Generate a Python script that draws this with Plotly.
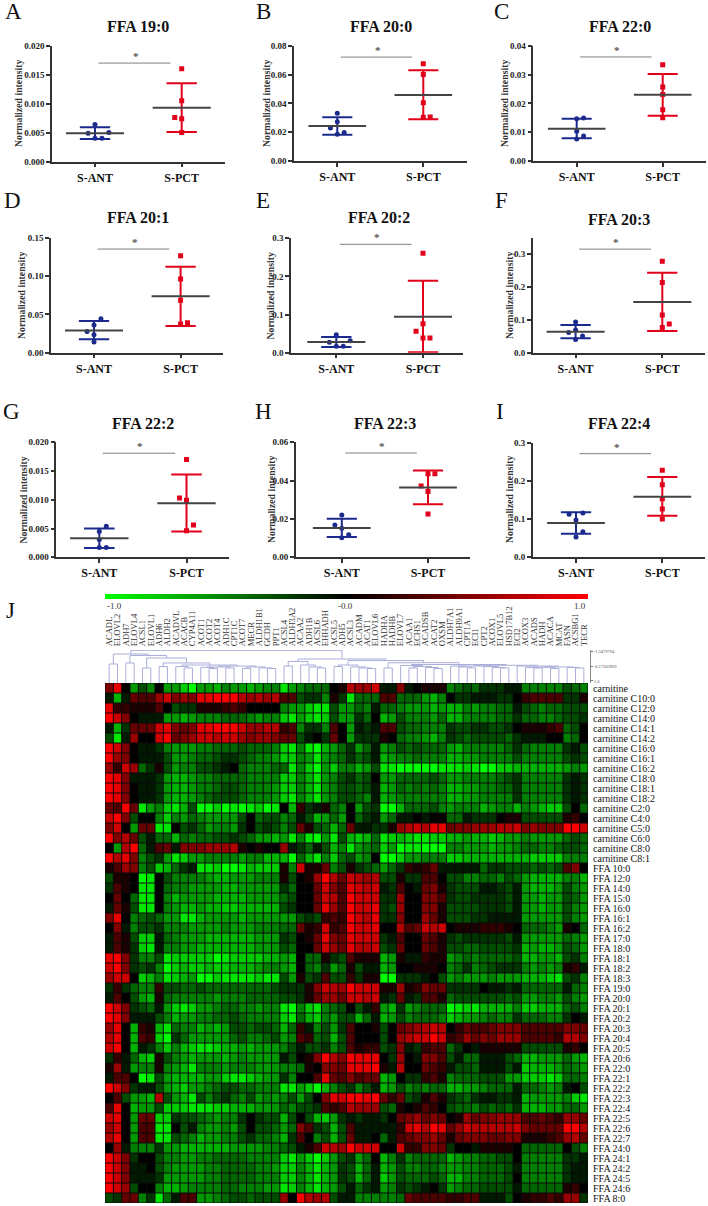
import plotly.graph_objects as go

# ---------------- scatter panels: data ----------------
LETTERS = list("ABCDEFGHI")
TITLES = ["FFA 19:0", "FFA 20:0", "FFA 22:0", "FFA 20:1", "FFA 20:2", "FFA 20:3", "FFA 22:2", "FFA 22:3", "FFA 22:4"]
CATEGORIES = ["S-ANT", "S-PCT"]
Y_MAX = [0.02, 0.08, 0.04, 0.15, 0.3, 0.35, 0.02, 0.06, 0.3]
Y_TICKS = [
    ["0.000", "0.005", "0.010", "0.015", "0.020"],
    ["0.00", "0.02", "0.04", "0.06", "0.08"],
    ["0.00", "0.01", "0.02", "0.03", "0.04"],
    ["0.00", "0.05", "0.10", "0.15"],
    ["0.0", "0.1", "0.2", "0.3"],
    ["0.0", "0.1", "0.2", "0.3"],
    ["0.000", "0.005", "0.010", "0.015", "0.020"],
    ["0.00", "0.02", "0.04", "0.06"],
    ["0.0", "0.1", "0.2", "0.3"],
]
ANT_VALUES = [
    [.0064, .0049, .0050, .0040, .0040],
    [.0331, .0273, .0229, .0197, .0185],
    [.0147, .0149, .0103, .0087, .0076],
    [.0443, .0361, .0278, .0235, .0139],
    [.0472, .0315, .0271, .0166, .0166],
    [.0932, .0689, .0618, .0507, .0405],
    [.0054, .0045, .0031, .0017, .0017],
    [.0220, .0167, .0150, .0117, .0101],
    [.1125, .1160, .0977, .0672, .0532],
]
ANT_JITTER = [
    [0, -.08, .16, 0, .08], [0, 0, -.08, .08, 0], [0, .08, 0, .08, 0],
    [.08, 0, -.08, 0, 0], [0, .16, -.08, 0, .08], [0, 0, -.08, .08, 0],
    [.08, 0, 0, 0, .08], [0, -.08, 0, .08, 0], [-.08, .08, 0, .08, 0],
]
PCT_VALUES = [
    [.0160, .0105, .0076, .0074, .0050],
    [.0675, .0601, .0405, .0303, .0305],
    [.0334, .0257, .0231, .0178, .0150],
    [.1265, .0961, .0683, .0374, .0391],
    [.2606, .0761, .0560, .0385, .0385],
    [.2787, .2138, .1145, .0872, .0770],
    [.0170, .0103, .0099, .0056, .0046],
    [.0436, .0436, .0372, .0342, .0225],
    [.2276, .1901, .1535, .1265, .1003],
]
PCT_JITTER = [
    [0, 0, -.08, 0, 0], [0, 0, 0, 0, .08], [0, 0, 0, 0, 0],
    [0, 0, 0, 0, .08], [0, 0, -.08, 0, .08], [0, 0, 0, .08, 0],
    [0, -.08, 0, .08, 0], [0, .08, -.08, 0, 0], [0, 0, 0, 0, 0],
]
ANT_MEAN = [.0049, .0243, .0112, .0291, .0280, .0638, .0033, .0152, .0898]
ANT_HIGH = [.0059, .0303, .0147, .0413, .0411, .0841, .0050, .0200, .1177]
ANT_LOW = [.0039, .0183, .0079, .0174, .0149, .0436, .0016, .0105, .0619]
PCT_MEAN = [.0093, .0458, .0230, .0735, .0945, .1540, .0094, .0363, .1587]
PCT_HIGH = [.0135, .0629, .0302, .1122, .1889, .2432, .0144, .0452, .2102]
PCT_LOW = [.0051, .0289, .0157, .0348, .0010, .0659, .0045, .0276, .1090]
SIG_Y = [.0170, .0721, .0361, .1352, .2843, .3152, .0181, .0544, .2712]

# ---------------- heat map: data ----------------
GENES = ["ACADL", "ELOVL2", "ADH7", "ELOVL4", "ACSL1", "ELOVL1", "ADH6", "ALDH2", "ACADVL", "ACACB", "CYP4A11",
         "ACOT1", "ACOT2", "ACOT4", "ADH1C", "CPT1C", "ACOT7", "MECR", "ALDH1B1", "GCDH", "PPT1", "ACSL4", "ALDH3A2",
         "ACAA2", "ADH1B", "ACSL6", "EHHADH", "ACSL5", "ADH5", "ACSL3", "ACADM", "ACAT1", "ELOVL6", "HADHA", "HADHB",
         "ELOVL7", "ACAA1", "ECHS1", "ACADSB", "ACAT2", "OXSM", "ALDH7A1", "ALDH9A1", "CPT1A", "ECI1", "CPT2", "ACOX1",
         "ELOVL5", "HSD17B12", "ECI2", "ACOX3", "ACADS", "HADH", "ACACA", "MCAT", "FASN", "ACSBG1", "TECR"]
METABOLITES = ["carnitine", "carnitine C10:0", "carnitine C12:0", "carnitine C14:0", "carnitine C14:1", "carnitine C14:2",
               "carnitine C16:0", "carnitine C16:1", "carnitine C16:2", "carnitine C18:0", "carnitine C18:1",
               "carnitine C18:2", "carnitine C2:0", "carnitine C4:0", "carnitine C5:0", "carnitine C6:0", "carnitine C8:0",
               "carnitine C8:1", "FFA 10:0", "FFA 12:0", "FFA 14:0", "FFA 15:0", "FFA 16:0", "FFA 16:1", "FFA 16:2",
               "FFA 17:0", "FFA 18:0", "FFA 18:1", "FFA 18:2", "FFA 18:3", "FFA 19:0", "FFA 20:0", "FFA 20:1", "FFA 20:2",
               "FFA 20:3", "FFA 20:4", "FFA 20:5", "FFA 20:6", "FFA 22:0", "FFA 22:1", "FFA 22:2", "FFA 22:3", "FFA 22:4",
               "FFA 22:5", "FFA 22:6", "FFA 22:7", "FFA 24:0", "FFA 24:1", "FFA 24:2", "FFA 24:5", "FFA 24:6", "FFA 8:0"]
# One string per metabolite, one character per gene:
# 0 = black, a..j = green -0.1..-1.0, A..J = red +0.1..+1.0 (spaces only group columns)
CELLS = [
    "EI0f ce0 ff hjffgeffgfee if eddd0A GFFH aaE a0AAA edcdbbbaa eeeee cde",
    "agaD CCF HE FEIIJJJGFGFG CC cbbeAb iddd CCd ddfge 0bbaaabb0 BCCCC bbA",
    "IBBA AAC 0c bbAAABCB0000 ef fhiicf fdea dde fffgf ggefeedda cdedd ccc",
    "JHE0 aaa ff gfeeedddefee hi fhihcf fbd0 gfc eeefd ggeeeeddb ddeed ccb",
    "agbD DDH IE DEIIJJJHFFGG BC ebbeC0 faba CCc ddeee bccbbccb0 AAABC dc0",
    "ciaF 00H JD EFHHGHHFEFFE DD ca0bD0 fbbb A0d eefge bcdccccdb aaa00 ed0",
    "JHE0 aab ef ffeedddcddde hi eijgfd bfda fec dcddd fgeeeeedb deeee bac",
    "JFE0 aaa cf feddcbbcdeef hh efifed bdca gfe edeee ggffeeeec eeeee cbc",
    "FBHF dbA cf eeccba0deeed di ehjfhe egfc iij jjjji iihijjhhg ggggg fef",
    "JIEa aab fg gfeeddddeeee hh egifec bdc0 ffd dddcd ffeeeedcb eeeee bab",
    "JIE0 aab fg gfeedccdeeef hh egifec cdca gfd edede ggffeeddb eeeee bab",
    "JIE0 aab fg gfedcccdeeef hi egifec cdea gfe eeeee ggffeeeeb eeeee bab",
    "DCJD ife hi gcjjhjijihji 0g BbaAde 0fcb jjg dddce feeegfeeg efghh c0d",
    "HJEc 00e he fdeffffc0dcc ed acgfdf 0dba fda a0a00 ddabbb0AA ccccc AB0",
    "EH0f DDi i0 cbdfeefb0cbc ec DAcdgd Daab bAF GHGII DEEFFFGGH EFEEE JJH",
    "JEGD cad dg deddccbcdffg fi eijfic ghgd ihg hiihh ggfgghgff effff dcd",
    "0fGJ daC Da EEEFFFGA0A00 Fa bdacge ifed hfj iijjj eefffgffe ddeed ccd",
    "JGIE ecb fi hffeeeefeegg gj dgiehd cfe0 jjh ffeee hhggggggg ghhhh eee",
    "ACFE ech gd baiihjjighhh Ae HAADec Abcd fdb BABDa aaaadbbcc cdcdc CE0",
    "cAA0 ji0 ce eeefggfffeee Ac 0AFJGD HGFG ccA bbCC0 cceeddecd fgggg eeg",
    "bCA0 ii0 de effffggfffff bd 00DHEC IHGH abC 0aDEA bcccaabca fgggf cef",
    "0D0d ii0 eg ffffggggffff dc 00DHGC JHHH bbF 00EEC bccbbbbca ffgff cdf",
    "aDAc ii0 ef ggfgghhggggg cb 00DIFC JHHI bcF 00EEA ccccbbbca ffgff cef",
    "EI0e dcd ff iigffffgffff ff cbcBCB JHGI bbE 00FDA cccbbaaaa fffff cef",
    "0Eae ccb ee effffefffeee dd DABHBC JHHI 00G CDHGH 0AAABBBA0 dddef A0d",
    "aCAc hha de fffggggggfff bc 0ADIED IHHH baC 00DCA bcbbbbbca fffff def",
    "aCAb hia ee ffgggggggfff cd 00DHFD IGGH cbD 00DCA ccddccccb gfggf cdf",
    "IJEb eec ih hhhhjihhhhgg fg 0ddAbc CAAA gfA aaBAA fededdddc ggffg cbe",
    "HJEb cbe jh ghhghhgggfee fg 0debfd Acaa gf0 0AAA0 edbedcbbb efefe ABa",
    "FHH0 hge ih gfjjhiiiihii cf AcbCcc BbAA jjb bba0c fefffefff ggghi cbe",
    "bBbd eeB cc ddcddddddddc bb bAEHGF JHHH AAF ABEDD bbbb0aaba ddddd ade",
    "aC0c fgA de eeeefeeedddd cc bADFFD HHGH abD abCCA dccccccdc ffeef cef",
    "JHEb cda fh ihffeddeefee ij ehiedc 0caB fgb feddd jihigggge hhggg dce",
    "JIEa aac eg ffeeddcdeeee hi dghefc cgda gfc eddde hgffedeeb dddee b0a",
    "FI0g BAg id eegfgfccdccd gd Baecfb C00A c0D EFGHG 0BDCCDEEE CCCCC EED",
    "GI0g CBh jb dfffffdceedc fe CBdcgc C000 c0F GHHJH BCFDEDFFF CCCCB GGE",
    "HJ0g abe he ghiihggfgfff ec accbec CABB cbE abBCC db0aAAAAA ccccc AB0",
    "bBad ghA ce fgfffgfeffff ac 0AEJGE JIII 0bF 0aEEC caddaaacd ggfff dfg",
    "AFaf eeA ef gieeefeeefff ee dA0EED IIIJ AaG 00DCB accdaaaca hgggf def",
    "aCC0 jic fg gggffhiihgff be 00CIDC ECDD gf0 bbBCA edddcccff hhhih dde",
    "JHEb aac fg hffedccddeee ii fhjgec beca gfc ededd ggffeddda ddefe a0c",
    "0Ccf fgG cf gicecbdecfef ec fc0EIH JJIJ DBD cbACA bcdbaabba gffff ehi",
    "CI0g ffc hh hiiihhgggfff de ccbCBC GFFF cdA 0ACB0 cddecdcdb gggff ddf",
    "HI0f DDh hb ccdefeeb0bcc gc 0cghfb abaa b0D EFDED 0AFDEEFFF CCDCB FFD",
    "FH0f CCi i0 caeffefc0ccd fd ECbcgc Caaa aaB HIGJI DFHGGGGGH EDDDD JJG",
    "GI0f CCi ic degffeecbdde gb C0ecgc Daa0 daC DEEFD ADEEEDDEE AAABC FGD",
    "0Fae eeb ff ggggggffffee dc aACHGF JHHH 00H BBEED b00aAAAA0 ddddd 0ce",
    "JHEb 00c ee ffeeddddeeee hi fhjhfc bfd0 geb edddd gfeeddcc0 eeeee bba",
    "JHEa a0c ef fffeeddddeef hh egigfb cgda gfc eedde ffeedddca eeeee baa",
    "JHEa aab ff fffeeddddeee hh egigfb cgda hfc dddcd ggeedddc0 eeeee baa",
    "JHFc 00e gg feeeeddeeeff ih egigfc adba feb cba0b feddcccca ddddd AB0",
    "cbDD ebi da CCffedccdccc F0 JGFGca aeee eed DCCCC BBCCaaac0 ABBCB FFb",
]

# Gene dendrogram: (merge height on the printed scale, left child, right child); integers are gene columns
q = (-0.06, 11, (0.02, 12, 13))
q2 = (-0.10, q, (-0.02, 14, 15))
r = (-0.10, (0.02, 16, 17), (-0.02, 18, (0.02, 19, 20)))
ne = (-0.25, (-0.13, 8, (-0.02, 9, 10)), (-0.17, q2, r))
left_tree = (-1.11, (-0.33, 0, 1),
             (-1.00, (-0.41, 2, 3), (-0.80, (-0.02, 4, 5), (-0.41, (-0.13, 6, 7), ne))))
u = (-0.53, (-0.17, 21, 22), (-0.25, 23, (-0.10, 24, (-0.02, 25, 26))))
w = (-0.25, (-0.13, 27, 28), (-0.10, 29, (-0.02, 30, (0.02, 31, 32))))
t = (-0.21, 35, (-0.13, (-0.02, 36, 37), (-0.06, 38, (0.02, 39, 40))))
a1 = (-0.17, (-0.17, 41, (-0.10, 42, (-0.02, 43, 44))), (-0.13, 45, (-0.06, 46, (-0.02, 47, 48))))
a2 = (-0.17, 49, (-0.10, (-0.08, (-0.06, 50, (-0.02, 51, 52)), (0.02, 53, 54)), (-0.06, 55, (-0.02, 56, 57))))
y_branch = (-0.43, (-0.02, 33, 34), (-0.29, t, (-0.23, a1, a2)))
right_tree = (-0.72, u, (-0.60, w, y_branch))
GENE_TREE = (-1.40, left_tree, right_tree)
SCALE_VALUES = [-1.3479794, -0.17303969, 1.0]
SCALE_TEXT = ["-1.3479794", "-0.17303969", "1.0"]

# ---------------- layout and style ----------------
W, H = 708, 1206
SERIF = "Liberation Serif"
BLUE, RED, MEAN_COL, AXIS_COL = "#1b2a8c", "#e2001a", "#444444", "#333333"
# axis-left, axis-right, y of top, y of bottom, x of cat 0, x of cat 1 in page pixels
FRAMES = [
    (52, 225, 45.7, 161.5, 95, 181.7), (294, 467, 45.7, 161, 337.3, 423.3), (533.3, 706, 45.7, 161, 576.7, 662.7),
    (51, 223, 237.7, 352.7, 94, 180.6), (291, 463, 238.3, 352.7, 336.3, 423), (532.7, 705, 237.7, 352.7, 575.6, 662.3),
    (56.4, 229, 442.3, 557.3, 99.3, 186.5), (295.7, 470, 442.3, 557, 341.8, 428), (532.7, 705, 442.7, 557.3, 576, 662.3),
]
TITLE_XY = [(138, 27), (380.7, 27), (620, 26), (137.7, 218), (379, 218), (618.5, 219), (142.7, 423), (385, 423), (619.4, 423)]
LETTER_XY = [(13, 11), (263, 11), (501.7, 11), (12.6, 200.5), (263, 200), (501, 200), (11, 411), (263, 411), (500, 411)]
YTITLE_XY = [(18, 104), (266, 104), (504, 104), (21, 296), (269.5, 296), (509, 296), (22.6, 500), (271, 500), (509, 500)]
HM_X0, HM_X1, HM_Y0, HM_Y1 = 105, 588, 683, 1203
BAR_TOP = 594


def fx(px):
    return px / W


def fy(py):
    return 1 - py / H


def note(text, px, py, size, color="#111111", bold=False, angle=0, xanchor="center"):
    return dict(text=text, x=fx(px), y=fy(py), xref="paper", yref="paper", showarrow=False, xanchor=xanchor,
                yanchor="middle", textangle=angle,
                font=dict(family=SERIF, size=size, color=color, weight="bold" if bold else "normal"))


fig = go.Figure()
layout = dict(width=W, height=H, autosize=False, margin=dict(l=0, r=0, t=0, b=0, pad=0, autoexpand=False),
              paper_bgcolor="white", plot_bgcolor="white", showlegend=False, font=dict(family=SERIF))
notes = []

# ---------------- scatter panels ----------------
for i in range(9):
    n = i + 3
    xn, yn = f"x{n}", f"y{n}"
    x0, x1, ytop, ybot, c0, c1 = FRAMES[i]
    step = c1 - c0

    def add_line(xs, ys, color, width):
        fig.add_trace(go.Scatter(x=xs, y=ys, mode="lines", xaxis=xn, yaxis=yn, hoverinfo="skip",
                                 line=dict(color=color, width=width)))

    groups = [(0, ANT_VALUES[i], ANT_JITTER[i], ANT_MEAN[i], ANT_HIGH[i], ANT_LOW[i], BLUE, "circle"),
              (1, PCT_VALUES[i], PCT_JITTER[i], PCT_MEAN[i], PCT_HIGH[i], PCT_LOW[i], RED, "square")]
    for pos, vals, jit, mean, high, low, col, sym in groups:
        add_line([pos, pos], [low, high], col, 2)
        add_line([pos - .175, pos + .175], [high, high], col, 2)
        add_line([pos - .175, pos + .175], [low, low], col, 2)
        fig.add_trace(go.Scatter(x=[pos + j for j in jit], y=vals, mode="markers", xaxis=xn, yaxis=yn,
                                 marker=dict(color=col, size=5, symbol=sym, line=dict(width=0))))
        add_line([pos - .335, pos + .335], [mean, mean], MEAN_COL, 2)
    add_line([.04, .87], [SIG_Y[i], SIG_Y[i]], "#808080", 1)

    layout[f"xaxis{n}"] = dict(
        domain=[fx(x0), fx(x1)], range=[(x0 - c0) / step, (x1 - c0) / step], anchor=yn, tickmode="array",
        tickvals=[0, 1], ticktext=CATEGORIES, showgrid=False, zeroline=False, showline=True, linecolor=AXIS_COL,
        linewidth=1.5, ticks="outside", ticklen=4, tickwidth=1.5, tickcolor=AXIS_COL,
        tickfont=dict(family=SERIF, size=12, color="#111111", weight="bold"))
    layout[f"yaxis{n}"] = dict(
        domain=[fy(ybot), fy(ytop)], range=[0, Y_MAX[i]], anchor=xn, tickmode="array",
        tickvals=[float(t) for t in Y_TICKS[i]], ticktext=Y_TICKS[i], showgrid=False, zeroline=False, showline=True,
        linecolor=AXIS_COL, linewidth=1.5, ticks="outside", ticklen=4, tickwidth=1.5, tickcolor=AXIS_COL,
        tickfont=dict(family=SERIF, size=9, color="#222222", weight="bold"))

    notes.append(note(TITLES[i], *TITLE_XY[i], 16, bold=True))
    notes.append(note(LETTERS[i], *LETTER_XY[i], 23))
    notes.append(note("Normalized intensity", *YTITLE_XY[i], 9.8, color="#333333", bold=True, angle=-90))
    notes.append(dict(text="*", x=.47, y=SIG_Y[i], xref=xn, yref=yn, showarrow=False, yanchor="bottom", yshift=-1,
                      font=dict(family=SERIF, size=11, color="#555555", weight="bold")))

# ---------------- heat map ----------------


def decode(ch):
    if ch == "0":
        return 0.0
    if ch.islower():
        return -(ord(ch) - 96) / 10
    return (ord(ch) - 64) / 10


Z = []
for row_text in CELLS:
    row = [decode(c) for c in row_text.replace(" ", "")]
    assert len(row) == len(GENES), (row_text, len(row))
    Z.append(row)
assert len(Z) == len(METABOLITES)

fig.add_trace(go.Heatmap(
    z=Z, x=list(range(len(GENES))), y=list(range(len(METABOLITES))), zmin=-1, zmax=1, hoverinfo="skip",
    colorscale=[[0, "#00ff00"], [0.5, "#000000"], [1, "#ff0000"]],
    colorbar=dict(orientation="h", x=fx(HM_X0), xanchor="left", y=fy(BAR_TOP), yanchor="top", len=HM_X1 - HM_X0,
                  lenmode="pixels", thickness=5, thicknessmode="pixels", xpad=0, ypad=0, outlinewidth=0,
                  showticklabels=False, ticks="")))
# dark cell borders between the heat-map cells
grid_x, grid_y = [], []
for k in range(len(GENES) + 1):
    grid_x += [k - .5, k - .5, None]
    grid_y += [-.5, len(METABOLITES) - .5, None]
for k in range(len(METABOLITES) + 1):
    grid_x += [-.5, len(GENES) - .5, None]
    grid_y += [k - .5, k - .5, None]
fig.add_trace(go.Scatter(x=grid_x, y=grid_y, mode="lines", xaxis="x", yaxis="y", hoverinfo="skip",
                         line=dict(color="#0a0a0a", width=1)))
layout["xaxis"] = dict(domain=[fx(HM_X0), fx(HM_X1)], range=[-.5, 57.5], anchor="y", showticklabels=False, ticks="",
                       showgrid=False, zeroline=False)
layout["yaxis"] = dict(domain=[fy(HM_Y1), fy(HM_Y0)], range=[51.5, -.5], anchor="x", side="right", tickmode="array",
                       tickvals=list(range(52)), ticktext=METABOLITES, ticks="outside", ticklen=2,
                       tickcolor="rgba(0,0,0,0)", showgrid=False, zeroline=False,
                       tickfont=dict(family=SERIF, size=10, color="#111111"))

notes.append(note("-1.0", HM_X0, 605.7, 9, color="#333333", xanchor="left"))
notes.append(note("-0.0", 345.7, 605.7, 9, color="#333333"))
notes.append(note("1.0", 587.5, 605.7, 9, color="#333333", xanchor="right"))
notes.append(note("J", 10, 610.5, 23))

# ---------------- dendrogram ----------------
LEAF_Y = 1.157
seg_x, seg_y = [], []


def walk(node):
    if isinstance(node, int):
        return node, LEAF_Y
    h, a, b = node
    ax, ay = walk(a)
    bx, by = walk(b)
    seg_x.extend([ax, ax, bx, bx, None])
    seg_y.extend([ay, h, h, by, None])
    return (ax + bx) / 2, h


walk(GENE_TREE)
fig.add_trace(go.Scatter(x=seg_x, y=seg_y, mode="lines", xaxis="x2", yaxis="y2", hoverinfo="skip",
                         line=dict(color="#a9aed8", width=1)))
layout["xaxis2"] = dict(domain=[fx(HM_X0), fx(HM_X1)], range=[-.5, 57.5], anchor="y2", side="top", tickmode="array",
                        tickvals=list(range(58)), ticktext=GENES, tickangle=-90, ticks="outside", ticklen=1,
                        tickcolor="rgba(0,0,0,0)", showgrid=False, zeroline=False, showline=False,
                        tickfont=dict(family=SERIF, size=8.6, color="#333333"))
layout["yaxis2"] = dict(domain=[fy(683), fy(650)], range=[LEAF_Y, -1.426], anchor="free", position=fx(590), side="right",
                        tickmode="array", tickvals=SCALE_VALUES, ticktext=SCALE_TEXT, ticks="outside",
                        ticklen=2, tickwidth=.5, tickcolor="#777777", showline=True, linecolor="#888888", linewidth=.7,
                        showgrid=False, zeroline=False, tickfont=dict(family=SERIF, size=4.5, color="#555555"))

layout["annotations"] = notes
fig.update_layout(**layout)
fig.write_html("out.html", config=dict(displayModeBar=False),
               post_script="document.body.style.margin='0';document.documentElement.style.overflow='hidden';")
